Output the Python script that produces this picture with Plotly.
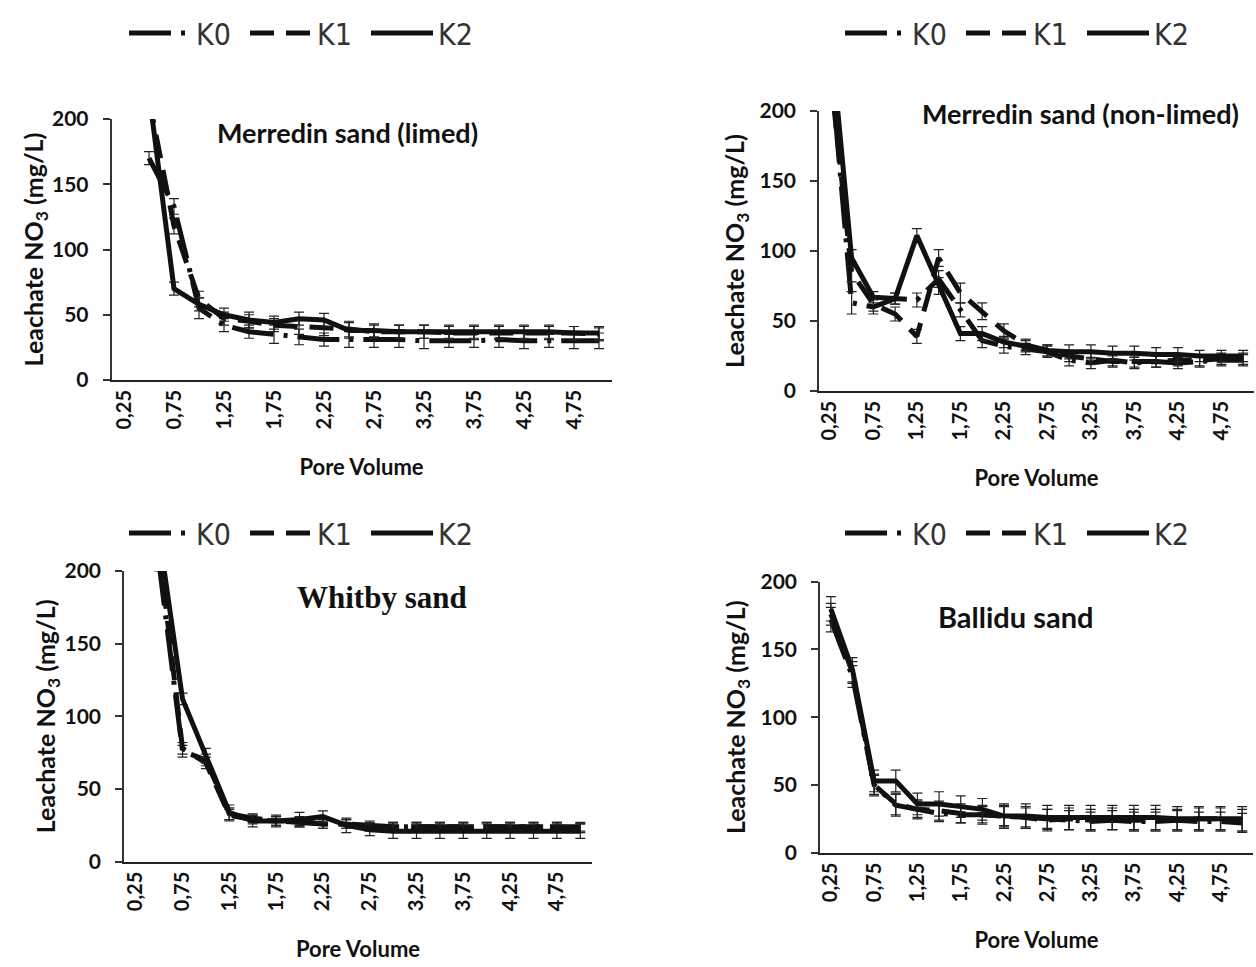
import plotly.graph_objects as go

# ---------------- data ----------------
pore_volume = [0.25, 0.5, 0.75, 1.0, 1.25, 1.5, 1.75, 2.0, 2.25, 2.5,
               2.75, 3.0, 3.25, 3.5, 3.75, 4.0, 4.25, 4.5, 4.75, 5.0]
tick_values = [0.25, 0.75, 1.25, 1.75, 2.25, 2.75, 3.25, 3.75, 4.25, 4.75]
tick_labels = ["0,25", "0,75", "1,25", "1,75", "2,25", "2,75", "3,25", "3,75", "4,25", "4,75"]
y_ticks = [0, 50, 100, 150, 200]
series_names = ["K0", "K1", "K2"]
panel_titles = ["Merredin sand (limed)", "Merredin sand (non-limed)", "Whitby sand", "Ballidu sand"]

# Merredin sand (limed)
limed_k0 = [None, 170, 133, 55, 42, 37, 35, 33, 31, 31, 31, 31, 30, 30, 30, 31, 30, 30, 30, 30]
limed_k1 = [None, 215, 118, 62, 47, 45, 42, 41, 40, 39, 37, 37, 37, 36, 36, 36, 36, 36, 36, 35]
limed_k2 = [None, 220, 70, 58, 50, 46, 44, 47, 46, 38, 38, 37, 37, 37, 37, 37, 37, 37, 36, 36]
limed_k0_err = [0, 5, 6, 8, 5, 5, 7, 6, 5, 6, 6, 6, 6, 5, 5, 6, 6, 5, 6, 6]
limed_k1_err = [0, 6, 6, 6, 5, 5, 5, 6, 6, 6, 5, 5, 5, 5, 5, 5, 5, 5, 5, 5]
limed_k2_err = [0, 6, 5, 5, 5, 6, 5, 5, 5, 6, 5, 5, 5, 5, 5, 5, 5, 5, 5, 5]

# Merredin sand (non-limed)
nonlimed_k0 = [240, 63, 60, 66, 65, 80, 58, 36, 32, 30, 28, 22, 20, 22, 20, 21, 20, 21, 22, 22]
nonlimed_k1 = [230, 85, 62, 55, 39, 95, 70, 57, 43, 33, 29, 25, 23, 21, 21, 21, 22, 22, 23, 23]
nonlimed_k2 = [260, 95, 67, 66, 111, 75, 41, 41, 35, 32, 29, 28, 28, 27, 27, 26, 26, 25, 25, 25]
nonlimed_k0_err = [8, 8, 5, 4, 5, 6, 5, 5, 5, 4, 4, 4, 4, 4, 4, 4, 4, 4, 4, 4]
nonlimed_k1_err = [8, 7, 5, 5, 5, 6, 7, 6, 5, 4, 4, 4, 4, 4, 4, 4, 4, 4, 4, 4]
nonlimed_k2_err = [8, 6, 4, 4, 5, 6, 5, 5, 4, 4, 4, 5, 5, 5, 5, 5, 5, 4, 4, 4]

# Whitby sand
whitby_k0 = [None, 205, 76, 70, 33, 30, 28, 27, 26, 26, 25, 24, 24, 24, 24, 24, 24, 24, 24, 24]
whitby_k1 = [None, 215, 78, 68, 32, 29, 28, 28, 26, 26, 24, 24, 24, 24, 24, 24, 24, 24, 24, 23]
whitby_k2 = [None, 225, 112, 73, 34, 28, 28, 29, 31, 25, 22, 21, 21, 21, 21, 21, 21, 21, 21, 21]
whitby_k0_err = [0, 5, 4, 4, 4, 3, 3, 3, 3, 3, 3, 3, 3, 3, 3, 3, 3, 3, 3, 3]
whitby_k1_err = [0, 5, 4, 4, 4, 3, 3, 3, 3, 3, 3, 3, 3, 3, 3, 3, 3, 3, 3, 3]
whitby_k2_err = [0, 5, 4, 5, 5, 4, 4, 5, 4, 5, 4, 5, 5, 5, 5, 5, 5, 5, 5, 5]

# Ballidu sand
ballidu_k0 = [172, 130, 50, 35, 32, 29, 28, 28, 27, 26, 25, 24, 23, 24, 23, 23, 24, 23, 23, 22]
ballidu_k1 = [176, 133, 50, 36, 32, 31, 29, 28, 27, 26, 24, 25, 24, 25, 24, 24, 24, 25, 25, 24]
ballidu_k2 = [180, 135, 53, 53, 36, 36, 34, 32, 27, 27, 26, 26, 26, 26, 26, 26, 25, 25, 25, 25]
ballidu_k0_err = [9, 8, 7, 8, 6, 6, 6, 6, 7, 7, 7, 7, 7, 7, 7, 7, 7, 7, 7, 7]
ballidu_k1_err = [8, 8, 8, 8, 7, 7, 7, 7, 8, 8, 8, 8, 8, 8, 8, 8, 8, 8, 8, 8]
ballidu_k2_err = [9, 9, 8, 8, 8, 9, 8, 8, 9, 9, 9, 9, 9, 9, 9, 9, 9, 9, 9, 9]

panels = [
    ([limed_k0, limed_k1, limed_k2], [limed_k0_err, limed_k1_err, limed_k2_err]),
    ([nonlimed_k0, nonlimed_k1, nonlimed_k2], [nonlimed_k0_err, nonlimed_k1_err, nonlimed_k2_err]),
    ([whitby_k0, whitby_k1, whitby_k2], [whitby_k0_err, whitby_k1_err, whitby_k2_err]),
    ([ballidu_k0, ballidu_k1, ballidu_k2], [ballidu_k0_err, ballidu_k1_err, ballidu_k2_err]),
]

# ---------------- layout geometry (pixels) ----------------
W, H = 1256, 967
# (left, right, y_of_0, y_of_200)
boxes = [(111.5, 611.5, 380, 119),
         (819, 1254, 391, 111),
         (124, 592, 861.7, 571),
         (820, 1253, 852.7, 581.7)]
legend_pos = [(124, 33), (840, 33), (124, 533), (840, 533)]
title_pos = [(347, 133), (1080, 113), (382, 598), (1016, 616)]
title_sizes = [27, 27, 31, 29]
ytitle_standoff = [0, 8, 0, 8]

dashes = ["42px,10px,4px,10px", "24px,12px", "solid"]
FONT = "Lato"
LEGFONT = "DejaVu Sans Condensed, DejaVu Sans"

fig = go.Figure()
layout = {}
for p, ((s_vals, s_errs), (l, r, y0, y200)) in enumerate(zip(panels, boxes)):
    sfx = "" if p == 0 else str(p + 1)
    leg = "legend" if p == 0 else f"legend{p + 1}"
    for name, vals, errs, dash in zip(series_names, s_vals, s_errs, dashes):
        fig.add_trace(go.Scatter(
            x=pore_volume, y=vals, name=name, mode="lines",
            line=dict(color="#111111", width=5, dash=dash),
            error_y=dict(type="data", array=errs, visible=True,
                         color="#222222", thickness=1.2, width=5),
            xaxis="x" + sfx, yaxis="y" + sfx, legend=leg,
            connectgaps=False,
        ))
    layout["xaxis" + sfx] = dict(
        domain=[l / W, r / W], anchor="y" + sfx,
        range=[0.125, 5.125], tickmode="array",
        tickvals=tick_values, ticktext=tick_labels, tickangle=-90,
        showline=True, linecolor="#222222", linewidth=2,
        ticks="", showgrid=False, zeroline=False, automargin=False,
        tickfont=dict(family=FONT, size=20, color="#111111", weight="bold"),
        title=dict(text="Pore Volume", standoff=31,
                   font=dict(family=FONT, size=22, color="#111111", weight="bold")),
    )
    layout["yaxis" + sfx] = dict(
        domain=[(H - y0) / H, (H - y200) / H], anchor="x" + sfx,
        range=[0, 200], tickmode="array", tickvals=y_ticks,
        showline=True, linecolor="#333333", linewidth=1.5,
        ticks="outside", ticklen=7, tickwidth=1.5, tickcolor="#333333",
        ticklabelstandoff=10, automargin=False,
        showgrid=False, zeroline=False,
        tickfont=dict(family=FONT, size=21, color="#111111", weight="bold"),
        title=dict(text="Leachate NO<sub>3</sub> (mg/L)", standoff=ytitle_standoff[p],
                   font=dict(family=FONT, size=25, color="#111111", weight="bold")),
    )
    lx, ly = legend_pos[p]
    layout[leg] = dict(
        x=lx / W, y=(H - ly) / H, xanchor="left", yanchor="middle",
        xref="paper", yref="paper",
        orientation="h", bgcolor="rgba(0,0,0,0)",
        font=dict(family=LEGFONT, size=30, color="#333333"),
        itemwidth=62, entrywidth=44, entrywidthmode="pixels",
        tracegroupgap=0,
    )

annotations = []
for p, (t, (tx, ty)) in enumerate(zip(panel_titles, title_pos)):
    fam = "Liberation Serif" if p == 2 else FONT
    annotations.append(dict(
        text=t, x=tx / W, y=(H - ty) / H, xref="paper", yref="paper",
        xanchor="center", yanchor="middle", showarrow=False,
        font=dict(family=fam, size=title_sizes[p], color="#111111", weight="bold"),
    ))

fig.update_layout(
    width=W, height=H, margin=dict(l=0, r=0, t=0, b=0, autoexpand=False),
    paper_bgcolor="white", plot_bgcolor="white",
    annotations=annotations, showlegend=True,
    **layout,
)

fig.write_html("out.html",
               config={"displayModeBar": False},
               post_script="document.body.style.margin='0';document.body.style.overflow='hidden';")
